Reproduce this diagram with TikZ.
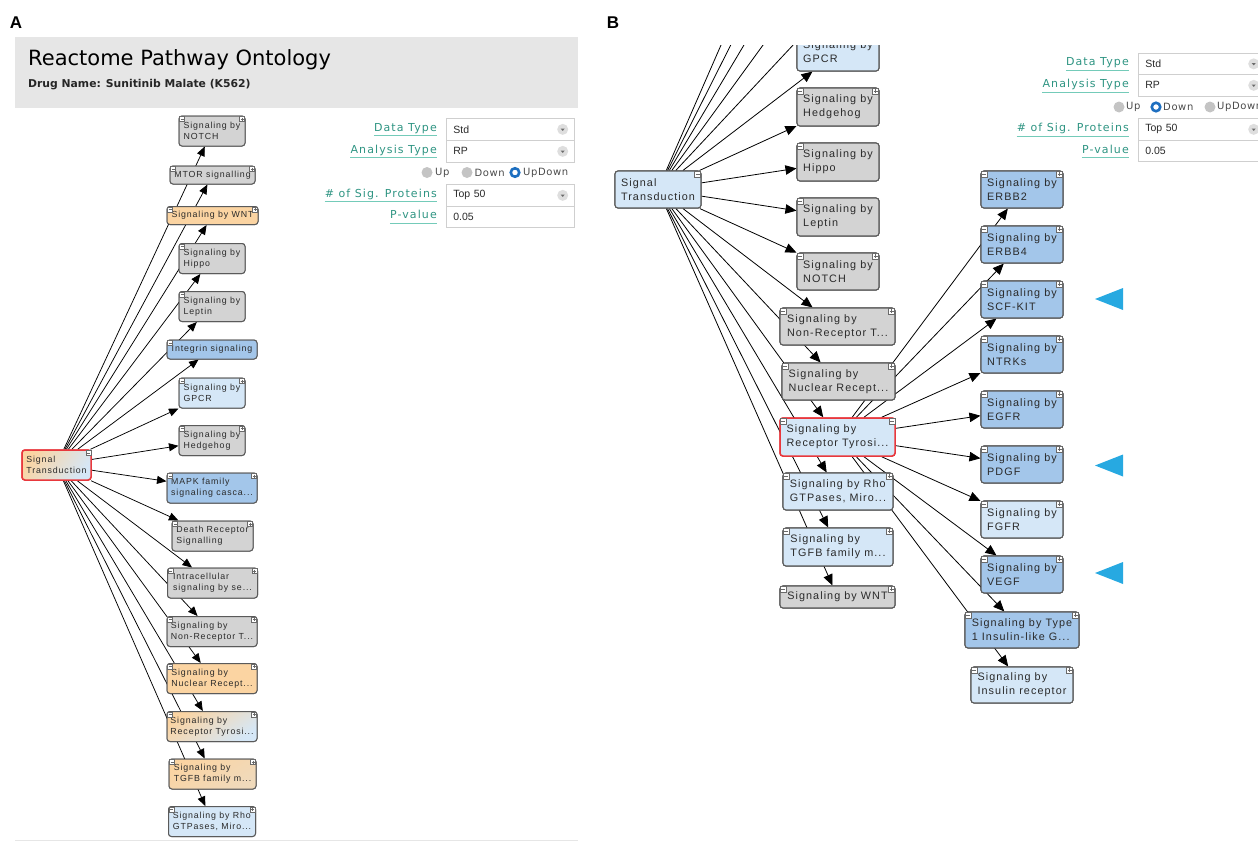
\documentclass[tikz,border=0pt]{standalone}
\usepackage{fontspec}
\setmainfont{Liberation Sans}
\newfontfamily\nodefont[LetterSpace=10]{Liberation Sans}
\newfontfamily\formfont[LetterSpace=10]{DejaVu Sans}
\newfontfamily\radiofont[LetterSpace=6]{DejaVu Sans}
\newfontfamily\headfont{DejaVu Sans}
\newfontfamily\inpfont{Liberation Sans}
\usetikzlibrary{arrows.meta}
\definecolor{grayF}{HTML}{D3D3D3}
\definecolor{lblue}{HTML}{D5E7F7}
\definecolor{dblue}{HTML}{A3C6EA}
\definecolor{orng}{HTML}{FBD4A2}
\definecolor{bord}{HTML}{5A5A5A}
\definecolor{redb}{HTML}{E8383D}
\definecolor{hdr}{HTML}{E6E6E6}
\definecolor{tealt}{HTML}{2E9482}
\definecolor{tealu}{HTML}{74CBB9}
\definecolor{trib}{HTML}{27A9E1}
\definecolor{txt}{HTML}{2A2A2A}
\definecolor{icol}{HTML}{6A6A6A}
\definecolor{inbord}{HTML}{CFCFCF}
\definecolor{radiog}{HTML}{C4C4C4}
\definecolor{radiob}{HTML}{1E6FC0}
\definecolor{ddg}{HTML}{DEDEDE}
\tikzset{
  box/.style={draw=bord, line width=1pt, rounded corners=3pt, align=left, inner xsep=2pt, inner ysep=1pt, text=txt},
  boxA/.style={box, font=\nodefont\fontsize{8.8}{11}\selectfont, minimum height=30pt},
  boxB/.style={box, font=\nodefont\fontsize{10.8}{13.8}\selectfont, minimum height=37pt, line width=1.1pt},
  gr/.style={fill=grayF}, lbf/.style={fill=lblue}, dbf/.style={fill=dblue}, orf/.style={fill=orng},
  redbox/.style={draw=redb, line width=1.5pt},
  edgeA/.style={draw=black, line width=0.75pt, -{Triangle[length=9.5pt,width=8pt]}},
  edgeB/.style={draw=black, line width=0.8pt, -{Triangle[length=11pt,width=9.5pt]}},
  icon/.style={draw=icol, fill=white, line width=0.5pt},
  iconln/.style={draw=icol, line width=0.5pt},
  plabel/.style={font=\fontsize{17}{17}\selectfont\bfseries, inner sep=0pt, text=black},
  flabel/.style={font=\formfont\fontsize{11}{13}\selectfont, text=tealt, inner xsep=0pt, inner ysep=1.5pt, text height=8.5pt, text depth=2.6pt},
  uline/.style={draw=tealu, line width=1.4pt},
  inbox/.style={draw=inbord, fill=white, line width=0.7pt, font=\inpfont\fontsize{10.5}{12}\selectfont, text=txt, inner xsep=7pt, align=left, anchor=north west},
  ddc/.style={circle, fill=ddg, minimum size=11pt, inner sep=0pt},
  ddarrow/.style={fill=icol},
  radio/.style={circle, fill=radiog, minimum size=11pt, inner sep=0pt},
  radiosel/.style={circle, draw=radiob, line width=2.6pt, fill=white, minimum size=8.5pt, inner sep=0pt},
  rtext/.style={font=\radiofont\fontsize{10}{12}\selectfont, text=txt!85, inner sep=0pt, anchor=west},
  tri/.style={fill=trib},
  sep/.style={draw=hdr, line width=1pt}
}
% icon: #1 anchor point, #2 x offset of left edge, #3 size, #4 plus flag
\newcommand\iconsq[4]{%
  \draw[icon] ([shift={(#2,1)}]#1) rectangle ([shift={(#2+#3,1+#3)}]#1);
  \draw[iconln] ([shift={(#2+1,1+#3/2)}]#1) -- ([shift={(#2+#3-1,1+#3/2)}]#1);
  \ifnum#4=1 \draw[iconln] ([shift={(#2+#3/2,2)}]#1) -- ([shift={(#2+#3/2,#3)}]#1);\fi}
\newcommand\LM[2]{\iconsq{#1.north west}{1}{#2}{0}}
\newcommand\RP[2]{\iconsq{#1.north east}{-1-#2}{#2}{1}}
\newcommand\RM[2]{\iconsq{#1.north east}{-1-#2}{#2}{0}}
\newcommand\dropdn[2]{\node[ddc] (#2) at ([xshift=-12pt]#1.east) {};
  \fill[ddarrow] ([shift={(-2,-0.8)}]#2.center) -- ([shift={(2,-0.8)}]#2.center) -- ([shift={(0,1.6)}]#2.center) -- cycle;}
\begin{document}
\begin{tikzpicture}[x=1pt,y=-1pt]
\useasboundingbox (0,0) rectangle (1258,841);
\clip (0,0) rectangle (1258,841);
% ---------------- panel labels
\node[plabel] (labA) at (16,23) {A};
\node[plabel] (labB) at (613,23) {B};
% ---------------- header A
\node[fill=hdr, minimum width=563pt, minimum height=71pt, anchor=north west, inner sep=0pt] (hdrA) at (15,37) {};
\node[anchor=base west, inner sep=0pt, font=\headfont\fontsize{21}{24}\selectfont, text=black] (title) at (28,65) {Reactome Pathway Ontology};
\node[anchor=base west, inner sep=0pt, font=\headfont\bfseries\fontsize{10.8}{12}\selectfont, text=black!85] (subt) at (28,87) {Drug Name: Sunitinib Malate (K562)};
\draw[sep] (15,840) -- (578,840);
% ---------------- panel A graph: edge targets
\node[boxA, redbox, minimum width=69pt, top color=orng, bottom color=lblue, shading angle=55] (sA) at (56.5,465) {Signal\\Transduction};
\node[boxA, gr, minimum width=66pt] (a1) at (212,131) {Signaling by\\NOTCH};
\node[boxA, gr, minimum width=85pt, minimum height=18pt] (a2) at (212.5,175) {MTOR signalling};
\node[boxA, orf, minimum width=91pt, minimum height=18pt] (a3) at (212.5,215.5) {Signaling by WNT};
\node[boxA, gr, minimum width=66pt] (a4) at (212,258.5) {Signaling by\\Hippo};
\node[boxA, gr, minimum width=66pt] (a5) at (212,306.5) {Signaling by\\Leptin};
\node[boxA, dbf, minimum width=90pt, minimum height=19pt] (a6) at (212,349.5) {Integrin signaling};
\node[boxA, lbf, minimum width=66pt] (a7) at (212,393) {Signaling by\\GPCR};
\node[boxA, gr, minimum width=66pt] (a8) at (212,440.5) {Signaling by\\Hedgehog};
\node[boxA, dbf, minimum width=90pt] (a9) at (212,488) {MAPK family\\signaling casca...};
\node[boxA, gr, minimum width=81pt] (a10) at (212.5,536) {Death Receptor\\Signalling};
\node[boxA, gr, minimum width=90pt] (a11) at (212.5,583) {Intracellular\\signaling by se...};
\node[boxA, gr, minimum width=90pt] (a12) at (212,631.5) {Signaling by\\Non-Receptor T...};
\node[boxA, orf, minimum width=90pt] (a13) at (212,678.5) {Signaling by\\Nuclear Recept...};
\node[boxA, minimum width=90pt, top color=orng, bottom color=lblue, shading angle=35] (a14) at (212,726.5) {Signaling by\\Receptor Tyrosi...};
\node[boxA, minimum width=87pt, top color=orng, bottom color=orng!70!lblue, shading angle=30] (a15) at (212.5,774) {Signaling by\\TGFB family m...};
\node[boxA, lbf, minimum width=87pt] (a16) at (212,821.5) {Signaling by Rho\\GTPases, Miro...};
\foreach \i in {1,...,16} \draw[edgeA] (sA) -- (a\i);
% redraw nodes on top of edges
\node[boxA, redbox, minimum width=69pt, top color=orng, bottom color=lblue, shading angle=55] (sA2) at (56.5,465) {Signal\\Transduction};
\node[boxA, gr, minimum width=66pt] (c1) at (212,131) {Signaling by\\NOTCH};
\node[boxA, gr, minimum width=85pt, minimum height=18pt] (c2) at (212.5,175) {MTOR signalling};
\node[boxA, orf, minimum width=91pt, minimum height=18pt] (c3) at (212.5,215.5) {Signaling by WNT};
\node[boxA, gr, minimum width=66pt] (c4) at (212,258.5) {Signaling by\\Hippo};
\node[boxA, gr, minimum width=66pt] (c5) at (212,306.5) {Signaling by\\Leptin};
\node[boxA, dbf, minimum width=90pt, minimum height=19pt] (c6) at (212,349.5) {Integrin signaling};
\node[boxA, lbf, minimum width=66pt] (c7) at (212,393) {Signaling by\\GPCR};
\node[boxA, gr, minimum width=66pt] (c8) at (212,440.5) {Signaling by\\Hedgehog};
\node[boxA, dbf, minimum width=90pt] (c9) at (212,488) {MAPK family\\signaling casca...};
\node[boxA, gr, minimum width=81pt] (c10) at (212.5,536) {Death Receptor\\Signalling};
\node[boxA, gr, minimum width=90pt] (c11) at (212.5,583) {Intracellular\\signaling by se...};
\node[boxA, gr, minimum width=90pt] (c12) at (212,631.5) {Signaling by\\Non-Receptor T...};
\node[boxA, orf, minimum width=90pt] (c13) at (212,678.5) {Signaling by\\Nuclear Recept...};
\node[boxA, minimum width=90pt, top color=orng, bottom color=lblue, shading angle=35] (c14) at (212,726.5) {Signaling by\\Receptor Tyrosi...};
\node[boxA, minimum width=87pt, top color=orng, bottom color=orng!70!lblue, shading angle=30] (c15) at (212.5,774) {Signaling by\\TGFB family m...};
\node[boxA, lbf, minimum width=87pt] (c16) at (212,821.5) {Signaling by Rho\\GTPases, Miro...};
\RM{sA2}{5}
\foreach \i in {1,2,3,4,5,6,7,8,9,10,11,12,13,14,15,16} {\LM{c\i}{5}}
\foreach \i in {1,2,3,7,8,9,10,11,12,13,14,15,16} {\RP{c\i}{5}}
% ---------------- form A
\node[flabel, anchor=east] (fa1) at (437,128.5) {Data Type};
\node[flabel, anchor=east] (fa2) at (437,150.5) {Analysis Type};
\node[flabel, anchor=east] (fa3) at (437,194.5) {\# of Sig. Proteins};
\node[flabel, anchor=east] (fa4) at (437,216) {P-value};
\foreach \n in {fa1,fa2,fa3,fa4} \draw[uline] (\n.south west) -- (\n.south east);
\node[inbox, text width=114pt, minimum height=22pt] (ia1) at (446,118) {Std};
\node[inbox, text width=114pt, minimum height=22pt] (ia2) at (446,140) {RP};
\node[inbox, text width=114pt, minimum height=22pt] (ia3) at (446,184) {Top 50};
\node[inbox, text width=114pt, minimum height=21pt] (ia4) at (446,206) {0.05};
\dropdn{ia1}{da1}\dropdn{ia2}{da2}\dropdn{ia3}{da3}
\node[radio] (ra1) at (427,172.5) {};
\node[rtext] (ta1) at (435,172.5) {Up};
\node[radio] (ra2) at (467,172.5) {};
\node[rtext] (ta2) at (474.5,172.5) {Down};
\node[radiosel] (ra3) at (515,172.5) {};
\node[rtext] (ta3) at (523,172.5) {UpDown};
% ---------------- panel B graph (clipped)
\begin{scope}
\clip (600,45) rectangle (1258,841);
\coordinate (h1) at (838,-3);
\coordinate (h2) at (838,-58);
\coordinate (h3) at (838,-113);
\coordinate (h4) at (838,-168);
\coordinate (h5) at (838,-223);
\node[boxB, minimum width=86pt, lbf] (sB) at (658,189.5) {Signal\\Transduction};
\node[boxB, lbf, minimum width=82pt, minimum height=38pt] (b1) at (838,52) {Signaling by\\GPCR};
\node[boxB, gr, minimum width=82pt, minimum height=38pt] (b2) at (838,107) {Signaling by\\Hedgehog};
\node[boxB, gr, minimum width=82pt, minimum height=38pt] (b3) at (838,162) {Signaling by\\Hippo};
\node[boxB, gr, minimum width=82pt, minimum height=38pt] (b4) at (838,217) {Signaling by\\Leptin};
\node[boxB, gr, minimum width=82pt] (b5) at (838,271.5) {Signaling by\\NOTCH};
\node[boxB, gr, minimum width=115pt] (b6) at (837.5,326.5) {Signaling by\\Non-Receptor T...};
\node[boxB, gr, minimum width=113pt] (b7) at (838.5,381.5) {Signaling by\\Nuclear Recept...};
\node[boxB, lbf, redbox, minimum width=115pt, minimum height=38pt] (b8) at (837.5,437) {Signaling by\\Receptor Tyrosi...};
\node[boxB, lbf, minimum width=110pt] (b9) at (838,491.5) {Signaling by Rho\\GTPases, Miro...};
\node[boxB, lbf, minimum width=110pt, minimum height=38pt] (b10) at (838,547) {Signaling by\\TGFB family m...};
\node[boxB, gr, minimum width=115pt, minimum height=22pt] (b11) at (837.5,597) {Signaling by WNT};
\node[boxB, dbf, minimum width=82pt] (r1) at (1022,189.5) {Signaling by\\ERBB2};
\node[boxB, dbf, minimum width=82pt] (r2) at (1022,244.5) {Signaling by\\ERBB4};
\node[boxB, dbf, minimum width=82pt] (r3) at (1022,299.5) {Signaling by\\SCF-KIT};
\node[boxB, dbf, minimum width=82pt] (r4) at (1022,354.5) {Signaling by\\NTRKs};
\node[boxB, dbf, minimum width=82pt] (r5) at (1022,409.5) {Signaling by\\EGFR};
\node[boxB, dbf, minimum width=82pt] (r6) at (1022,464.5) {Signaling by\\PDGF};
\node[boxB, lbf, minimum width=82pt] (r7) at (1022,519.5) {Signaling by\\FGFR};
\node[boxB, dbf, minimum width=82pt] (r8) at (1022,574.5) {Signaling by\\VEGF};
\node[boxB, dbf, minimum width=114pt, minimum height=36pt] (r9) at (1022,630) {Signaling by Type\\1 Insulin-like G...};
\node[boxB, lbf, minimum width=102pt, minimum height=36pt] (r10) at (1022,685) {Signaling by\\Insulin receptor};
\foreach \i in {1,...,5} \draw[edgeB] (sB) -- (h\i);
\foreach \i in {1,...,11} \draw[edgeB] (sB) -- (b\i);
\foreach \i in {1,...,10} \draw[edgeB] (b8) -- (r\i);
% nodes on top
\node[boxB, minimum width=86pt, lbf] (sB2) at (658,189.5) {Signal\\Transduction};
\node[boxB, lbf, minimum width=82pt, minimum height=38pt] (d1) at (838,52) {Signaling by\\GPCR};
\node[boxB, gr, minimum width=82pt, minimum height=38pt] (d2) at (838,107) {Signaling by\\Hedgehog};
\node[boxB, gr, minimum width=82pt, minimum height=38pt] (d3) at (838,162) {Signaling by\\Hippo};
\node[boxB, gr, minimum width=82pt, minimum height=38pt] (d4) at (838,217) {Signaling by\\Leptin};
\node[boxB, gr, minimum width=82pt] (d5) at (838,271.5) {Signaling by\\NOTCH};
\node[boxB, gr, minimum width=115pt] (d6) at (837.5,326.5) {Signaling by\\Non-Receptor T...};
\node[boxB, gr, minimum width=113pt] (d7) at (838.5,381.5) {Signaling by\\Nuclear Recept...};
\node[boxB, lbf, redbox, minimum width=115pt, minimum height=38pt] (d8) at (837.5,437) {Signaling by\\Receptor Tyrosi...};
\node[boxB, lbf, minimum width=110pt] (d9) at (838,491.5) {Signaling by Rho\\GTPases, Miro...};
\node[boxB, lbf, minimum width=110pt, minimum height=38pt] (d10) at (838,547) {Signaling by\\TGFB family m...};
\node[boxB, gr, minimum width=115pt, minimum height=22pt] (d11) at (837.5,597) {Signaling by WNT};
\node[boxB, dbf, minimum width=82pt] (e1) at (1022,189.5) {Signaling by\\ERBB2};
\node[boxB, dbf, minimum width=82pt] (e2) at (1022,244.5) {Signaling by\\ERBB4};
\node[boxB, dbf, minimum width=82pt] (e3) at (1022,299.5) {Signaling by\\SCF-KIT};
\node[boxB, dbf, minimum width=82pt] (e4) at (1022,354.5) {Signaling by\\NTRKs};
\node[boxB, dbf, minimum width=82pt] (e5) at (1022,409.5) {Signaling by\\EGFR};
\node[boxB, dbf, minimum width=82pt] (e6) at (1022,464.5) {Signaling by\\PDGF};
\node[boxB, lbf, minimum width=82pt] (e7) at (1022,519.5) {Signaling by\\FGFR};
\node[boxB, dbf, minimum width=82pt] (e8) at (1022,574.5) {Signaling by\\VEGF};
\node[boxB, dbf, minimum width=114pt, minimum height=36pt] (e9) at (1022,630) {Signaling by Type\\1 Insulin-like G...};
\node[boxB, lbf, minimum width=102pt, minimum height=36pt] (e10) at (1022,685) {Signaling by\\Insulin receptor};
\RM{sB2}{6}
\foreach \i in {2,3,4,5,6,7,8,9,10,11} {\LM{d\i}{6}}
\foreach \i in {2,5,6,7,9,10,11} {\RP{d\i}{6}}
\RM{d8}{6}
\foreach \i in {1,...,10} {\LM{e\i}{6}\RP{e\i}{6}}
\end{scope}
% triangles
\fill[tri] (1095,299) -- (1123,288) -- (1123,310) -- cycle;
\fill[tri] (1095,465.5) -- (1123,454.5) -- (1123,476.5) -- cycle;
\fill[tri] (1095,573) -- (1123,562) -- (1123,584) -- cycle;
% ---------------- form B
\node[flabel, anchor=east] (fb1) at (1129,63) {Data Type};
\node[flabel, anchor=east] (fb2) at (1129,85) {Analysis Type};
\node[flabel, anchor=east] (fb3) at (1129,129) {\# of Sig. Proteins};
\node[flabel, anchor=east] (fb4) at (1129,150.5) {P-value};
\foreach \n in {fb1,fb2,fb3,fb4} \draw[uline] (\n.south west) -- (\n.south east);
\node[inbox, text width=113pt, minimum height=21pt] (ib1) at (1138,53) {Std};
\node[inbox, text width=113pt, minimum height=22pt] (ib2) at (1138,74) {RP};
\node[inbox, text width=113pt, minimum height=22pt] (ib3) at (1138,118) {Top 50};
\node[inbox, text width=113pt, minimum height=21pt] (ib4) at (1138,140) {0.05};
\dropdn{ib1}{db1}\dropdn{ib2}{db2}\dropdn{ib3}{db3}
\node[radio] (rb1) at (1119,107) {};
\node[rtext] (tb1) at (1126,107) {Up};
\node[radiosel] (rb2) at (1156,107) {};
\node[rtext] (tb2) at (1163,107) {Down};
\node[radio] (rb3) at (1210,107) {};
\node[rtext] (tb3) at (1217,107) {UpDown};
\end{tikzpicture}
\end{document}
